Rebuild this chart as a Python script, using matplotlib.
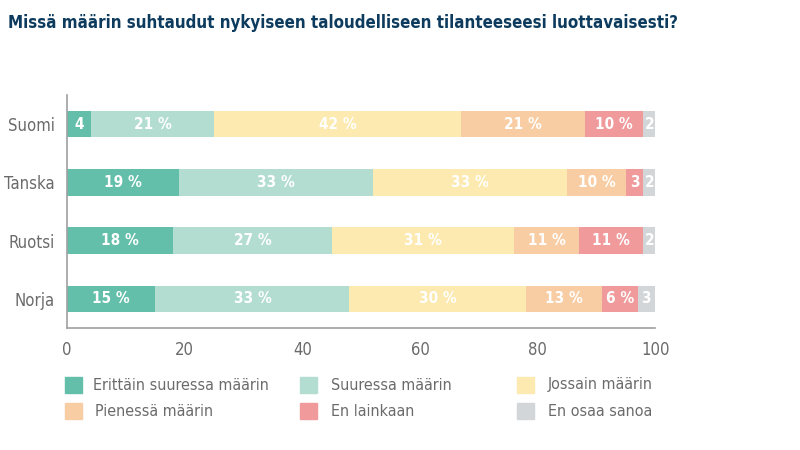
import matplotlib
matplotlib.use("Agg")
import matplotlib.pyplot as plt

countries = ["Suomi", "Tanska", "Ruotsi", "Norja"]
categories = ["Erittäin suuressa määrin", "Suuressa määrin", "Jossain määrin",
              "Pienessä määrin", "En lainkaan", "En osaa sanoa"]
erittain = [4, 19, 18, 15]
suuressa = [21, 33, 27, 33]
jossain = [42, 33, 31, 30]
pienessa = [21, 10, 11, 13]
ei_lainkaan = [10, 3, 11, 6]
ei_osaa = [2, 2, 2, 3]
series = [erittain, suuressa, jossain, pienessa, ei_lainkaan, ei_osaa]
colors = ["#64bfaa", "#b3ddd0", "#fdeab0", "#f9cda4", "#f09a9c", "#d3d6d9"]
xticks = [0, 20, 40, 60, 80, 100]

plt.rcParams["font.family"] = ["DejaVu Sans"]
plt.rcParams["font.stretch"] = "condensed"  # DejaVu Sans Condensed

fig = plt.figure(figsize=(8, 4.5), dpi=100)
ax = fig.add_axes([0.084, 0.271, 0.735, 0.518])

ypos = list(range(len(countries)))
left = [0] * len(countries)
for vals, col in zip(series, colors):
    ax.barh(ypos, vals, left=left, height=0.46, color=col, edgecolor="none")
    for y, l, v in zip(ypos, left, vals):
        txt = f"{v}" if v < 5 else f"{v} %"  # pienet osuudet ilman %-merkkiä
        ax.text(l + v / 2, y, txt, ha="center", va="center", color="white",
                fontsize=11, fontweight="bold")
    left = [a + b for a, b in zip(left, vals)]

ax.set_xlim(0, 100)
ax.set_ylim(3.5, -0.5)
ax.set_yticks(ypos)
ax.set_yticklabels(countries)
ax.set_xticks(xticks)
ax.tick_params(length=0, labelsize=12, labelcolor="#6b6b6b")
ax.tick_params(axis="y", pad=9)
ax.tick_params(axis="x", pad=9)
for s in ["top", "right"]:
    ax.spines[s].set_visible(False)
for s in ["left", "bottom"]:
    ax.spines[s].set_color("#a0a0a0")
    ax.spines[s].set_linewidth(1.2)

fig.text(0.01, 0.948, "Missä määrin suhtaudut nykyiseen taloudelliseen tilanteeseesi luottavaisesti?",
         fontsize=12.2, fontweight="bold", color="#0d3b5e", ha="left", va="center")

# selite rivi kerrallaan
col_x = [65, 300, 517]
row_y = [385, 411]
for i, (lab, col) in enumerate(zip(categories, colors)):
    px = col_x[i % 3]
    py = row_y[i // 3]
    fig.patches.append(plt.Rectangle((px / 800, 1 - (py + 8) / 450), 17 / 800, 16 / 450,
                                     transform=fig.transFigure, color=col))
    dx = 28 + (2 if i == 3 else 0) + (3 if i % 3 else 0)
    fig.text((px + dx) / 800, 1 - py / 450, lab, fontsize=11.5,
             color="#6b6b6b", ha="left", va="center")

fig.savefig("out.png", dpi=100)
